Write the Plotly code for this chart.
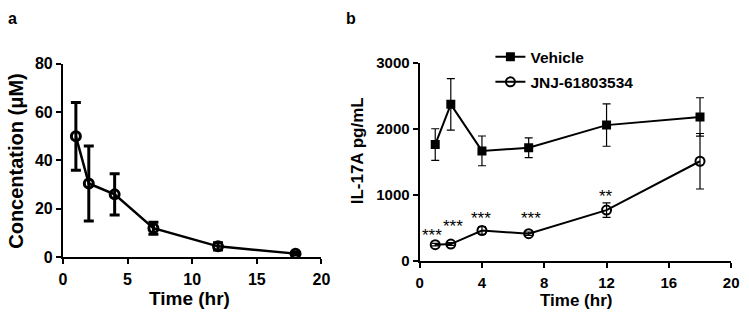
import plotly.graph_objects as go

# ---------------- data ----------------
time_a = [1, 2, 4, 7, 12, 18]
conc_a = [50, 30.5, 26, 12, 4.5, 1.5]
conc_a_err = [14, 15.5, 8.5, 2.5, 1.5, 0.5]

time_b = [1, 2, 4, 7, 12, 18]
vehicle = [1762, 2371, 1667, 1714, 2057, 2181]
vehicle_err = [240, 390, 225, 150, 320, 290]
jnj = [248, 257, 462, 414, 771, 1510]
jnj_err = [20, 20, 60, 25, 110, 420]

star_labels = ["***", "***", "***", "***", "**"]
star_x = [0.79, 2.14, 3.96, 7.15, 11.97]
star_y = [447, 576, 710, 710, 1043]

ticks_a_x = [0, 5, 10, 15, 20]
ticks_a_y = [0, 20, 40, 60, 80]
ticks_b_x = [0, 4, 8, 12, 16, 20]
ticks_b_y = [0, 1000, 2000, 3000]

W, H = 749, 321
FONT = "Liberation Sans, Arial, sans-serif"

fig = go.Figure()

fig.add_trace(go.Scatter(
    x=time_a, y=conc_a, mode="lines+markers", xaxis="x", yaxis="y",
    line=dict(color="black", width=2.5),
    marker=dict(symbol="circle-open", size=9, color="black", line=dict(width=3, color="black")),
    error_y=dict(type="data", array=conc_a_err, color="black", thickness=3, width=5),
    showlegend=False,
))

fig.add_trace(go.Scatter(
    x=time_b, y=vehicle, mode="lines+markers", xaxis="x2", yaxis="y2", name="Vehicle",
    legendgroup="v",
    line=dict(color="black", width=2),
    marker=dict(symbol="square", size=9, color="black"),
    error_y=dict(type="data", array=vehicle_err, color="black", thickness=1.2, width=4),
))
fig.add_trace(go.Scatter(
    x=time_b, y=jnj, mode="lines+markers", xaxis="x2", yaxis="y2", name="JNJ-61803534",
    legendgroup="j",
    line=dict(color="black", width=2),
    marker=dict(symbol="circle-open", size=9, color="black", line=dict(width=2, color="black")),
    error_y=dict(type="data", array=jnj_err, color="black", thickness=1.2, width=4),
))

def px_x(p):
    return p / W

def px_y(p):
    return 1 - p / H

axis_common = dict(
    showline=True, linewidth=2, linecolor="black", showgrid=False, zeroline=False,
    ticks="outside", ticklen=5, tickwidth=2, tickcolor="black", mirror=False,
    ticklabeloverflow="allow",
)

fig.update_layout(
    width=W, height=H,
    margin=dict(l=0, r=0, t=0, b=0),
    paper_bgcolor="white", plot_bgcolor="white",
    font=dict(family=FONT, color="black"),
    xaxis=dict(domain=[px_x(60), px_x(323)], range=[0, 20], tickvals=ticks_a_x,
               anchor="y", tickfont=dict(size=16, weight="bold"), ticklabelstandoff=2,
               **axis_common),
    yaxis=dict(domain=[px_y(263), px_y(58)], range=[0, 80], tickvals=ticks_a_y,
               anchor="x", tickfont=dict(size=16, weight="bold"), **axis_common),
    xaxis2=dict(domain=[px_x(423), px_x(740)], range=[0, 20], tickvals=ticks_b_x,
                anchor="y2", tickfont=dict(size=15, weight="bold"), ticklabelstandoff=2,
                **axis_common),
    yaxis2=dict(domain=[px_y(267), px_y(57)], range=[0, 3000], tickvals=ticks_b_y,
                anchor="x2", tickfont=dict(size=15, weight="bold"), **axis_common),
    legend=dict(x=px_x(495), y=px_y(33), xanchor="left", yanchor="top",
                font=dict(size=15.5, weight="bold"), tracegroupgap=2,
                bgcolor="rgba(0,0,0,0)"),
)

ann = [
    dict(text="a", x=px_x(9), y=px_y(10)),
    dict(text="b", x=px_x(353), y=px_y(10)),
]
for a in ann:
    fig.add_annotation(xref="paper", yref="paper", x=a["x"], y=a["y"], text=a["text"],
                       showarrow=False, font=dict(size=16, weight="bold"),
                       xanchor="center", yanchor="middle")

fig.add_annotation(xref="paper", yref="paper", x=px_x(12), y=px_y(161), text="Concentation (μM)",
                   textangle=-90, showarrow=False, font=dict(size=20, weight="bold"),
                   xanchor="center", yanchor="middle")
fig.add_annotation(xref="paper", yref="paper", x=px_x(360), y=px_y(150), text="IL-17A pg/mL",
                   textangle=-90, showarrow=False, font=dict(size=17, weight="bold"),
                   xanchor="center", yanchor="middle")
fig.add_annotation(xref="paper", yref="paper", x=px_x(189), y=px_y(307), text="Time (hr)",
                   showarrow=False, font=dict(size=19, weight="bold"),
                   xanchor="center", yanchor="middle")
fig.add_annotation(xref="paper", yref="paper", x=px_x(582), y=px_y(309), text="Time (hr)",
                   showarrow=False, font=dict(size=17, weight="bold"),
                   xanchor="center", yanchor="middle")

for lab, sx, sy in zip(star_labels, star_x, star_y):
    fig.add_annotation(xref="x2", yref="y2", x=sx, y=sy, text=lab, showarrow=False,
                       font=dict(size=17), xanchor="center", yanchor="middle", yshift=-4)

fig.write_html("out.html", post_script="document.body.style.margin='0';",
               config={"displayModeBar": False})
